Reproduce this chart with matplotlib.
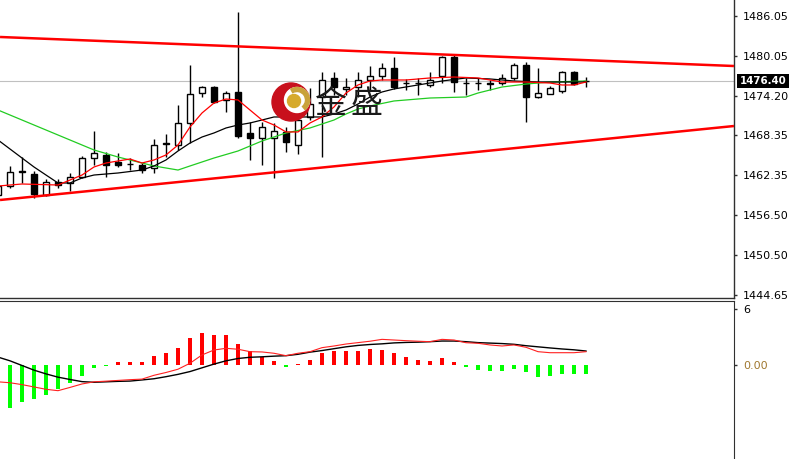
import matplotlib
matplotlib.use('Agg')
import matplotlib.pyplot as plt
import matplotlib.transforms as mtransforms
from matplotlib.patches import Rectangle, Circle, Wedge
import numpy as np

# ---------------- data ----------------
opens = [1459.46, 1460.79, 1462.80, 1462.57, 1459.46, 1461.39, 1461.24, 1462.13, 1464.94, 1465.39,
         1464.35, 1464.00, 1463.90, 1463.46, 1467.00, 1466.87, 1470.13, 1474.57, 1475.46, 1473.54,
         1474.72, 1468.65, 1467.90, 1467.90, 1468.80, 1466.87, 1471.02, 1473.98, 1476.80, 1475.20,
         1475.46, 1476.50, 1477.09, 1478.28, 1476.10, 1476.00, 1475.76, 1477.09, 1479.91, 1476.10,
         1476.00, 1476.00, 1476.05, 1476.80, 1478.72, 1473.98, 1474.42, 1474.87, 1477.68, 1476.35]
highs = [1461.50, 1463.76, 1465.09, 1463.02, 1461.83, 1461.83, 1462.72, 1465.24, 1468.94, 1465.83,
         1465.68, 1464.94, 1464.20, 1467.76, 1468.50, 1472.79, 1478.72, 1475.60, 1475.60, 1474.87,
         1486.57, 1470.28, 1470.28, 1470.13, 1469.54, 1473.09, 1475.31, 1477.68, 1477.68, 1476.80,
         1477.68, 1478.57, 1479.02, 1479.91, 1476.65, 1476.80, 1477.68, 1480.06, 1480.20, 1476.80,
         1476.80, 1476.50, 1477.39, 1479.02, 1479.17, 1478.28, 1475.60, 1477.83, 1477.83, 1476.95]
lows = [1459.00, 1460.50, 1461.24, 1459.02, 1459.31, 1460.50, 1460.05, 1461.98, 1463.90, 1462.13,
        1463.60, 1463.16, 1462.72, 1462.72, 1465.09, 1466.13, 1467.16, 1474.00, 1473.10, 1471.76,
        1467.90, 1464.65, 1463.90, 1461.98, 1465.83, 1465.54, 1470.57, 1465.09, 1474.28, 1474.28,
        1473.98, 1475.02, 1476.50, 1475.17, 1475.02, 1474.28, 1475.46, 1476.05, 1474.72, 1474.28,
        1475.02, 1475.02, 1475.76, 1476.50, 1470.28, 1473.83, 1474.42, 1474.57, 1475.76, 1475.46]
closes = [1460.79, 1462.87, 1463.00, 1459.61, 1461.39, 1460.94, 1462.13, 1464.94, 1465.68, 1463.90,
          1463.90, 1464.10, 1463.16, 1466.87, 1467.20, 1470.13, 1474.42, 1475.46, 1473.24, 1474.57,
          1468.20, 1467.90, 1469.54, 1468.94, 1467.31, 1470.57, 1472.94, 1476.50, 1475.46, 1475.40,
          1476.50, 1477.09, 1478.28, 1475.46, 1476.00, 1476.10, 1476.50, 1479.91, 1476.20, 1476.00,
          1476.10, 1475.90, 1476.80, 1478.72, 1473.98, 1474.57, 1475.31, 1477.68, 1475.90, 1476.40]

ma_red_idx = [0, 2, 5, 7, 8, 9, 10, 11, 12, 13, 14, 15, 16, 17, 18, 19, 20, 21, 22, 23, 24, 25,
              26, 27, 28, 29, 30, 31, 32, 34, 36, 38, 40, 42, 44, 46, 47, 48, 49]
ma_red_val = [1460.79, 1461.09, 1460.94, 1462.42, 1463.61, 1464.20, 1464.50, 1464.79, 1464.20, 1464.65,
              1465.39, 1466.87, 1469.54, 1471.61, 1473.09, 1473.68, 1473.54, 1472.05, 1470.57, 1469.83,
              1468.80, 1468.80, 1470.13, 1471.02, 1472.50, 1474.57, 1475.76, 1476.35, 1476.50, 1476.50,
              1476.80, 1476.94, 1476.80, 1476.20, 1476.20, 1476.05, 1475.76, 1475.76, 1476.20]

ma_black_idx = [0, 2, 3, 4, 5, 6, 7, 8, 10, 12, 13, 14, 15, 16, 17, 18, 19, 20, 21, 22, 23, 26,
                27, 28, 29, 30, 31, 32, 33, 35, 37, 39, 41, 43, 45, 47, 49]
ma_black_val = [1467.61, 1464.94, 1463.61, 1462.42, 1461.24, 1461.24, 1461.98, 1462.42, 1462.72, 1463.16,
                1463.76, 1464.65, 1465.98, 1467.16, 1468.05, 1468.65, 1469.39, 1469.83, 1470.13, 1470.57,
                1471.02, 1471.02, 1471.02, 1471.46, 1472.05, 1472.94, 1473.98, 1474.72, 1475.17, 1475.76,
                1476.35, 1476.80, 1476.65, 1476.35, 1476.20, 1476.20, 1476.20]

ma_green_idx = [0, 3, 6, 8, 10, 12, 13, 15, 16, 17, 18, 20, 22, 24, 26, 28, 29, 30, 31, 33,
                36, 39, 40, 42, 44, 46, 49]
ma_green_val = [1472.05, 1469.83, 1467.61, 1466.13, 1465.09, 1464.20, 1463.76, 1463.16, 1463.76, 1464.35,
                1464.94, 1465.98, 1467.46, 1468.65, 1469.39, 1470.57, 1471.46, 1472.20, 1472.65, 1473.39,
                1473.83, 1473.98, 1474.57, 1475.46, 1475.90, 1476.20, 1476.35]

trend_upper_idx = [0.17, 61.33]
trend_upper_val = [1482.87, 1478.57]
trend_lower_idx = [0.17, 61.33]
trend_lower_val = [1458.72, 1469.68]

last_price = 1476.40
last_price_label = '1476.40'
price_ticks = [1486.05, 1480.05, 1474.20, 1468.35, 1462.35, 1456.50, 1450.50, 1444.65]
price_tick_labels = ['1486.05', '1480.05', '1474.20', '1468.35', '1462.35', '1456.50', '1450.50', '1444.65']

macd_hist = [-5.3, -4.6, -3.9, -3.6, -3.2, -2.5, -1.9, -1.1, -0.3, -0.1,
             0.35, 0.35, 0.35, 1.0, 1.35, 1.85, 2.9, 3.45, 3.25, 3.25,
             2.25, 1.5, 0.9, 0.5, -0.15, 0.2, 0.6, 1.3, 1.5, 1.5,
             1.6, 1.75, 1.65, 1.3, 0.9, 0.6, 0.5, 0.75, 0.35, -0.15,
             -0.5, -0.55, -0.55, -0.35, -0.75, -1.2, -1.15, -0.9, -0.9, -0.9]
macd_black = [0.9, 0.5, 0.0, -0.5, -0.9, -1.25, -1.5, -1.73, -1.8, -1.75,
              -1.7, -1.67, -1.55, -1.42, -1.2, -0.95, -0.65, -0.25, 0.15, 0.5,
              0.75, 0.88, 0.93, 1.0, 1.05, 1.2, 1.43, 1.6, 1.8, 2.0,
              2.15, 2.25, 2.32, 2.42, 2.47, 2.5, 2.55, 2.62, 2.62, 2.55,
              2.45, 2.4, 2.35, 2.27, 2.12, 2.0, 1.88, 1.77, 1.68, 1.55]
macd_red = [-1.75, -1.85, -2.05, -2.3, -2.55, -2.7, -2.35, -1.98, -1.75, -1.68,
            -1.6, -1.52, -1.46, -1.05, -0.75, -0.4, 0.24, 1.13, 1.66, 1.84,
            1.74, 1.48, 1.45, 1.31, 1.05, 1.31, 1.48, 1.91, 2.09, 2.3,
            2.45, 2.6, 2.8, 2.73, 2.66, 2.6, 2.55, 2.8, 2.73, 2.44,
            2.38, 2.2, 2.09, 2.2, 1.95, 1.48, 1.37, 1.37, 1.37, 1.48]
macd_ticks = [6, 0]
macd_tick_labels = ['6', '0.00']

logo_text = ['金', '盛']

# ---------------- figure ----------------
W, H = 789, 459
fig = plt.figure(figsize=(W / 100, H / 100), dpi=100)
fig.patch.set_facecolor('white')

ax = fig.add_axes([0, 1 - 298 / H, 734 / W, 298 / H])
ax2 = fig.add_axes([0, 0, 734 / W, (H - 301) / H])

xlim = (2 / 12, 736 / 12)
n = len(opens)
x = np.arange(n)

# grey last price line
ax.axhline(last_price, color='#c0c0c0', lw=0.8, zorder=1)

# candles
body_w = 0.55
for i in range(n):
    o, h, l, c = opens[i], highs[i], lows[i], closes[i]
    ax.vlines(x[i], l, h, color='black', lw=1.0, zorder=2)
    lo, hi = min(o, c), max(o, c)
    fc = 'white' if c >= o else 'black'
    ax.add_patch(Rectangle((x[i] - body_w / 2, lo), body_w, max(hi - lo, 0.02),
                           facecolor=fc, edgecolor='black', lw=1.0, zorder=3))

# moving averages
ax.plot(ma_green_idx, ma_green_val, color='#22cc22', lw=0.9, zorder=4)
ax.plot(ma_black_idx, ma_black_val, color='black', lw=0.9, zorder=4)
ax.plot(ma_red_idx, ma_red_val, color='#ff0000', lw=0.9, zorder=5)

# trend lines
ax.plot(trend_upper_idx, trend_upper_val, color='#ff0000', lw=1.8, zorder=6, solid_capstyle='butt')
ax.plot(trend_lower_idx, trend_lower_val, color='#ff0000', lw=1.8, zorder=6, solid_capstyle='butt')

ax.set_xlim(*xlim)
ax.set_ylim(1444.20, 1488.35)
ax.yaxis.tick_right()
ax.set_yticks(price_ticks)
ax.set_yticklabels(price_tick_labels)
ax.set_xticks([])
ax.tick_params(axis='y', direction='out', length=2.5, width=1, pad=4, labelsize=8,
               colors='#303030', labelcolor='black')
for s in ['left', 'top']:
    ax.spines[s].set_visible(False)
ax.spines['right'].set_color('#303030')
ax.spines['bottom'].set_color('#303030')
ax.spines['right'].set_linewidth(1)
ax.spines['bottom'].set_linewidth(1)

# last price label box
tr = mtransforms.blended_transform_factory(ax.transAxes, ax.transData)
ax.add_patch(Rectangle((737 / 734, last_price - 7 / 6.75), 60 / 734, 14 / 6.75,
                       transform=tr, facecolor='black', edgecolor='none', clip_on=False, zorder=10))
ax.text(740 / 734, last_price, last_price_label, transform=tr, color='white', fontsize=7.4,
        fontweight='bold', ha='left', va='center', clip_on=False, zorder=11)

# ---------------- MACD panel ----------------
cols = ['#ff0000' if v > 0 else '#00ff00' for v in macd_hist]
ax2.bar(x, macd_hist, width=0.33, color=cols, zorder=2)
ax2.plot(x, macd_black, color='black', lw=1.0, zorder=3)
ax2.plot(x, macd_red, color='#ff2020', lw=0.8, zorder=4)
ax2.set_xlim(*xlim)
ax2.set_ylim(-10.02, 6.91)
ax2.yaxis.tick_right()
ax2.set_yticks(macd_ticks)
ax2.set_yticklabels(macd_tick_labels)
ax2.set_xticks([])
ax2.tick_params(axis='y', direction='out', length=2.5, width=1, pad=4, labelsize=8,
                colors='#303030', labelcolor='black')
ax2.get_yticklabels()[1].set_color('#a07830')
for s in ['left', 'bottom']:
    ax2.spines[s].set_visible(False)
ax2.spines['right'].set_color('#303030')
ax2.spines['top'].set_color('#303030')

# ---------------- logo watermark ----------------
lax = fig.add_axes([270 / W, 1 - 123 / H, 42 / W, 42 / H])
lax.set_xlim(0, 42)
lax.set_ylim(0, 42)
lax.axis('off')
lax.patch.set_alpha(0)
cx, cy = 21, 21
lax.add_patch(Circle((cx, cy), 19, color='#c8101c'))
lax.add_patch(Circle((cx + 6, cy + 2), 12.5, color='white'))
lax.add_patch(Wedge((cx + 6, cy + 2), 12.5, -50, 120, width=4, color='#c9a23a'))
lax.add_patch(Circle((cx + 3, cy + 1), 6.5, color='#d6aa2c'))

fig.text(331 / W, 1 - 104 / H, logo_text[0], fontsize=23, color='#1a1a1a',
         family=['Noto Sans CJK SC', 'DejaVu Sans'], ha='center', va='center', zorder=20)
fig.text(367 / W, 1 - 104 / H, logo_text[1], fontsize=23, color='#1a1a1a',
         family=['Noto Sans CJK SC', 'DejaVu Sans'], ha='center', va='center', zorder=20)

fig.savefig('out.png', dpi=100)
